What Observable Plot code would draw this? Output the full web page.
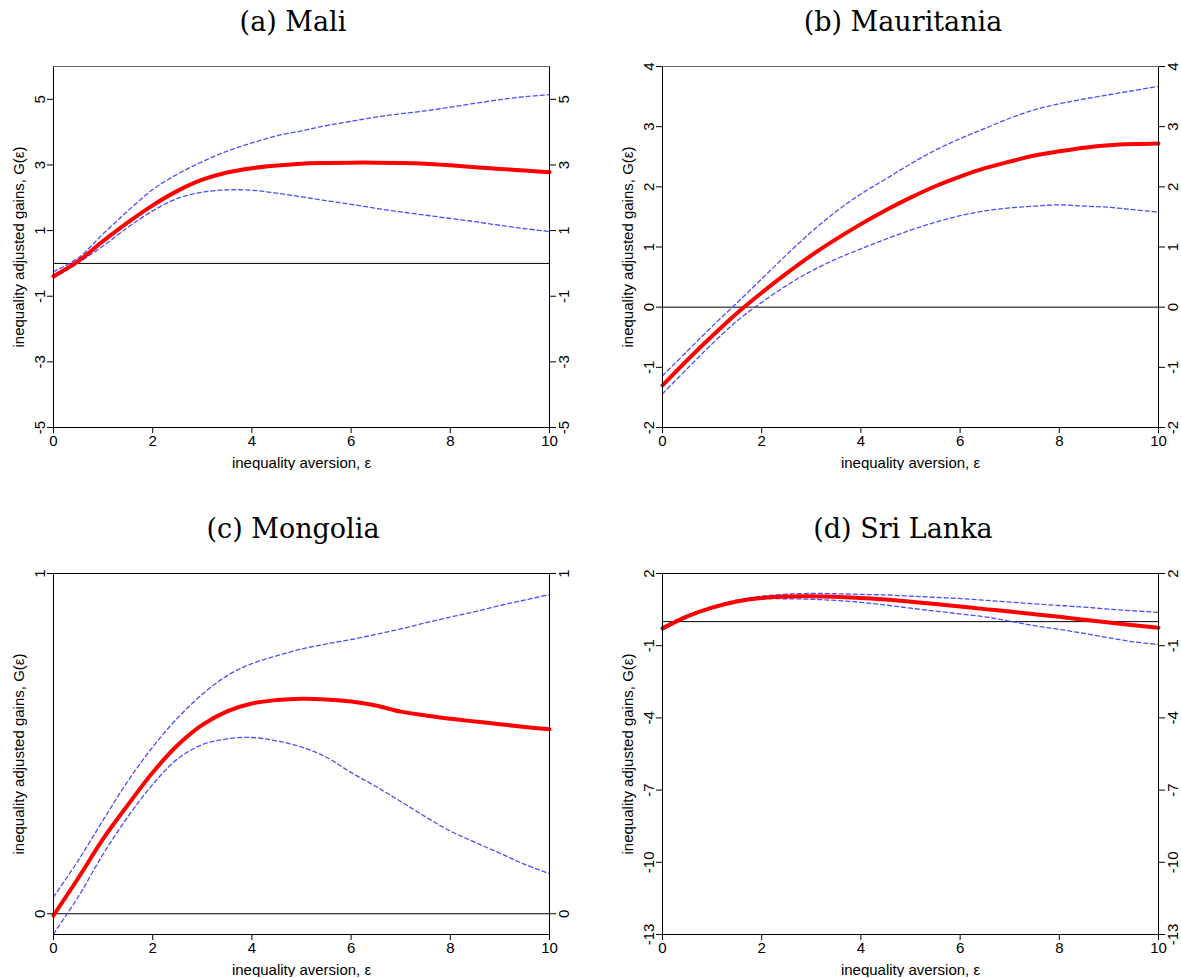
<!DOCTYPE html>
<html><head><meta charset="utf-8">
<script src="https://cdn.jsdelivr.net/npm/d3@7"></script>
<script src="https://cdn.jsdelivr.net/npm/@observablehq/plot@0.6"></script>
<style>
body{margin:0;background:#fff;}
#root{position:relative;width:1181px;height:978px;overflow:hidden;background:#fff;}
.title{position:absolute;font-family:"DejaVu Serif",serif;font-size:27px;line-height:30px;color:#000;white-space:nowrap;transform:translateX(-50%);}
.panel{position:absolute;}
</style></head><body><div id="root"></div>
<script>
// inequality aversion grid
const eps = [0,0.5,1,1.5,2,2.5,3,3.5,4,4.5,5,5.5,6,6.5,7,7.5,8,8.5,9,9.5,10];

// (a) Mali
const maliG     = [-0.39,0.07,0.68,1.25,1.77,2.21,2.55,2.77,2.90,2.98,3.04,3.06,3.07,3.07,3.06,3.04,2.99,2.93,2.88,2.83,2.78];
const maliUpper = [-0.25,0.17,0.90,1.60,2.25,2.72,3.10,3.42,3.67,3.89,4.04,4.20,4.33,4.46,4.56,4.65,4.76,4.88,4.99,5.08,5.14];
const maliLower = [-0.45,0.02,0.53,1.10,1.60,1.98,2.17,2.24,2.23,2.14,2.03,1.91,1.80,1.68,1.57,1.47,1.37,1.27,1.16,1.06,0.97];

// (b) Mauritania
const mauG     = [-1.30,-0.88,-0.48,-0.10,0.24,0.56,0.86,1.13,1.38,1.61,1.82,2.01,2.17,2.31,2.42,2.52,2.59,2.65,2.69,2.71,2.72];
const mauUpper = [-1.14,-0.73,-0.32,0.07,0.47,0.87,1.25,1.59,1.88,2.13,2.38,2.61,2.80,2.97,3.14,3.28,3.38,3.46,3.53,3.60,3.67];
const mauLower = [-1.44,-1.02,-0.61,-0.23,0.08,0.36,0.60,0.80,0.97,1.13,1.28,1.41,1.52,1.60,1.65,1.68,1.70,1.68,1.66,1.62,1.58];

// (c) Mongolia
const monG     = [-0.005,0.105,0.22,0.32,0.415,0.495,0.555,0.595,0.618,0.628,0.632,0.630,0.624,0.612,0.594,0.583,0.573,0.565,0.557,0.549,0.542];
const monUpper = [0.049,0.157,0.275,0.39,0.49,0.575,0.645,0.70,0.735,0.758,0.778,0.793,0.806,0.821,0.837,0.855,0.872,0.888,0.906,0.922,0.938];
const monLower = [-0.059,0.05,0.175,0.285,0.38,0.455,0.497,0.514,0.518,0.508,0.49,0.46,0.415,0.374,0.33,0.285,0.243,0.21,0.178,0.145,0.118];

// (d) Sri Lanka
const sriG     = [-0.28,0.22,0.58,0.84,0.98,1.04,1.05,1.03,0.98,0.92,0.83,0.73,0.63,0.52,0.42,0.31,0.20,0.08,-0.04,-0.15,-0.25];
const sriUpper = [-0.21,0.27,0.63,0.90,1.06,1.14,1.17,1.16,1.13,1.11,1.06,1.01,0.96,0.89,0.81,0.74,0.67,0.60,0.52,0.45,0.38];
const sriLower = [-0.35,0.17,0.54,0.82,0.94,0.95,0.93,0.88,0.80,0.69,0.56,0.44,0.32,0.20,0.02,-0.17,-0.32,-0.49,-0.67,-0.84,-0.95];

// axes
const xTicks = [0,2,4,6,8,10];
const maliTicks = [-5,-3,-1,1,3,5];
const mauTicks = [-2,-1,0,1,2,3,4];
const monTicks = [0,1];
const sriTicks = [-13,-10,-7,-4,-1,2];

const titles = ["(a) Mali","(b) Mauritania","(c) Mongolia","(d) Sri Lanka"];
const xLabel = "inequality aversion, ε";
const yLabel = "inequality adjusted gains, G(ε)";

const root = document.getElementById("root");

function panel({title, G, up, lo, yDomain, yTicks, left, top, titleX, marginLeft, width, topColor}) {
  const rows = eps.map((e, i) => ({e, g: G[i], u: up[i], l: lo[i]}));
  const t = document.createElement("div");
  t.className = "title";
  t.textContent = title;
  t.style.left = titleX + "px";
  t.style.top = (top - 33) + "px";
  root.appendChild(t);
  const fmt = d => String(d);
  const blue = {x: "e", stroke: "#4d4dff", strokeWidth: 1.3, strokeDasharray: "4,3", curve: "catmull-rom"};
  const plot = Plot.plot({
    width, height: 430,
    marginTop: 26, marginBottom: 43, marginLeft, marginRight: width - marginLeft - 496,
    style: {fontFamily: "'Liberation Sans', Arial, sans-serif", fontSize: "15px", background: "transparent", color: "#000"},
    x: {domain: [0, 10]},
    y: {domain: yDomain},
    marks: [
      Plot.ruleY([0], {stroke: "#000", strokeWidth: 1}),
      Plot.lineY(rows, {...blue, y: "u"}),
      Plot.lineY(rows, {...blue, y: "l"}),
      Plot.lineY(rows, {x: "e", y: "g", stroke: "#ff0000", strokeWidth: 4, curve: "catmull-rom"}),
      Plot.frame({stroke: "#000", strokeWidth: 1}),
      Plot.frame({anchor: "top", stroke: topColor, strokeWidth: 1.2}),
      Plot.axisX({ticks: xTicks, tickFormat: fmt, tickSize: 6, tickPadding: 2, label: xLabel, labelAnchor: "center", labelArrow: "none", labelOffset: 40}),
      Plot.axisY({anchor: "left", ticks: yTicks, tickFormat: fmt, tickSize: 6, tickRotate: -90, label: yLabel, labelAnchor: "center", labelArrow: "none", labelOffset: 40}),
      Plot.axisY({anchor: "right", ticks: yTicks, tickFormat: fmt, tickSize: 6, tickRotate: -90, lineAnchor: "top", label: null})
    ]
  });
  const wrap = document.createElement("div");
  wrap.className = "panel";
  wrap.style.left = left + "px";
  wrap.style.top = top + "px";
  wrap.appendChild(plot);
  root.appendChild(wrap);
}

panel({title: titles[0], G: maliG, up: maliUpper, lo: maliLower, yDomain: [-5, 6], yTicks: maliTicks, left: 0, top: 40, titleX: 293, marginLeft: 53, width: 590, topColor: "#666"});
panel({title: titles[1], G: mauG, up: mauUpper, lo: mauLower, yDomain: [-2, 4], yTicks: mauTicks, left: 600, top: 40, titleX: 903, marginLeft: 62, width: 581, topColor: "#666"});
panel({title: titles[2], G: monG, up: monUpper, lo: monLower, yDomain: [-0.061, 1], yTicks: monTicks, left: 0, top: 547, titleX: 293, marginLeft: 53, width: 590, topColor: "#000"});
panel({title: titles[3], G: sriG, up: sriUpper, lo: sriLower, yDomain: [-13, 2], yTicks: sriTicks, left: 600, top: 547, titleX: 903, marginLeft: 62, width: 581, topColor: "#000"});
</script>
</body></html>
